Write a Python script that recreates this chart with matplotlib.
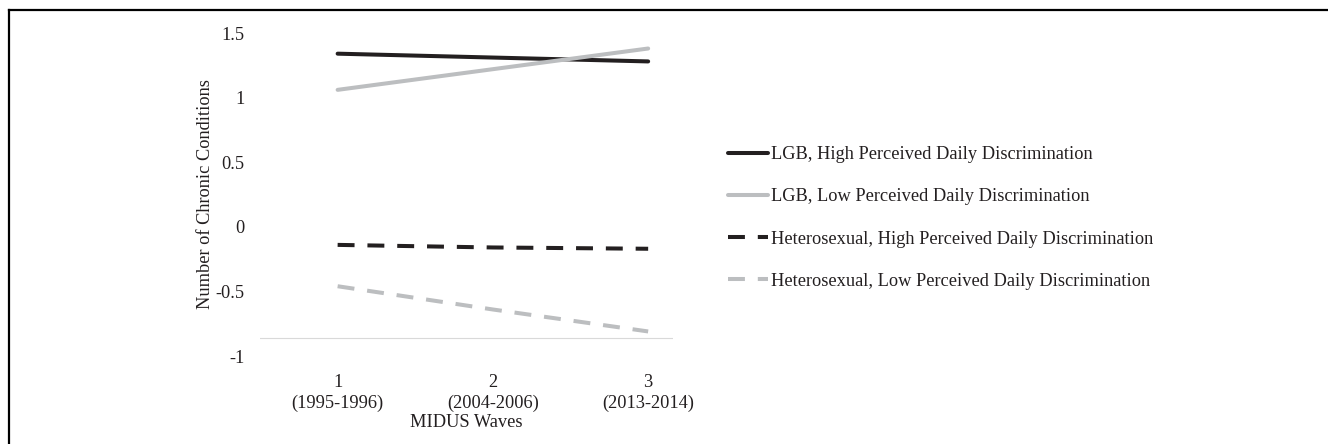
import matplotlib
matplotlib.use("Agg")
import matplotlib.pyplot as plt
from matplotlib.lines import Line2D

waves = [1, 2, 3]
wave_labels = ["1\n(1995-1996)", "2\n(2004-2006)", "3\n(2013-2014)"]
series_names = [
    "LGB, High Perceived Daily Discrimination",
    "LGB, Low Perceived Daily Discrimination",
    "Heterosexual, High Perceived Daily Discrimination",
    "Heterosexual, Low Perceived Daily Discrimination",
]
lgb_high = [1.34, 1.31, 1.28]
lgb_low = [1.06, 1.22, 1.38]
het_high = [-0.14, -0.16, -0.17]
het_low = [-0.46, -0.64, -0.81]
yticks = [-1, -0.5, 0, 0.5, 1, 1.5]
ytick_labels = ["-1", "-0.5", "0", "0.5", "1", "1.5"]

plt.rcParams['font.family'] = ['Liberation Serif', 'DejaVu Serif']

BLACK = "#231f20"
GRAY = "#bcbec0"
FS = 13.2
fig = plt.figure(figsize=(13.28, 4.44), dpi=100)
ax = fig.add_axes([260/1328, 1-356/444, 413/1328, 323/444])

lw = 2.9
dash = (0, (4.2, 3.2))
styles = [
    dict(color=BLACK, linestyle='-'),
    dict(color=GRAY, linestyle='-'),
    dict(color=BLACK, linestyle=dash),
    dict(color=GRAY, linestyle=dash),
]
for vals, name, st in zip([lgb_high, lgb_low, het_high, het_low], series_names, styles):
    ax.plot(waves, vals, lw=lw, label=name, solid_capstyle='round', dash_capstyle='butt', **st)

ax.set_xlim(0.5, 3.16)
ax.set_ylim(-1, 1.5)
for s in ax.spines.values():
    s.set_visible(False)
ax.axhline(-0.86, color="#d9d9d9", lw=0.8, zorder=0)

ax.set_yticks(yticks)
ax.set_yticklabels(ytick_labels)
ax.set_xticks(waves)
ax.set_xticklabels(wave_labels, linespacing=1.3)
ax.tick_params(axis='both', length=0, labelsize=FS, colors=BLACK)
ax.tick_params(axis='y', pad=11)
ax.tick_params(axis='x', pad=13)
ax.set_ylabel("Number of Chronic Conditions", fontsize=FS, color=BLACK, labelpad=1)
ax.set_xlabel("MIDUS Waves", fontsize=FS, color=BLACK, labelpad=1)

leg = fig.legend(loc='upper left', bbox_to_anchor=(728/1328, 1-146/444), frameon=False,
                 fontsize=FS, handlelength=2.2, handletextpad=0.15, labelspacing=1.38,
                 borderaxespad=0, borderpad=0)
for t in leg.get_texts():
    t.set_color(BLACK)

fig.add_artist(Line2D([9/1328, 9/1328], [0, 1-10/444], color="black", lw=1.6, transform=fig.transFigure))
fig.add_artist(Line2D([9/1328, 1], [1-10/444, 1-10/444], color="black", lw=1.6, transform=fig.transFigure))

fig.savefig("out.png", dpi=100)
